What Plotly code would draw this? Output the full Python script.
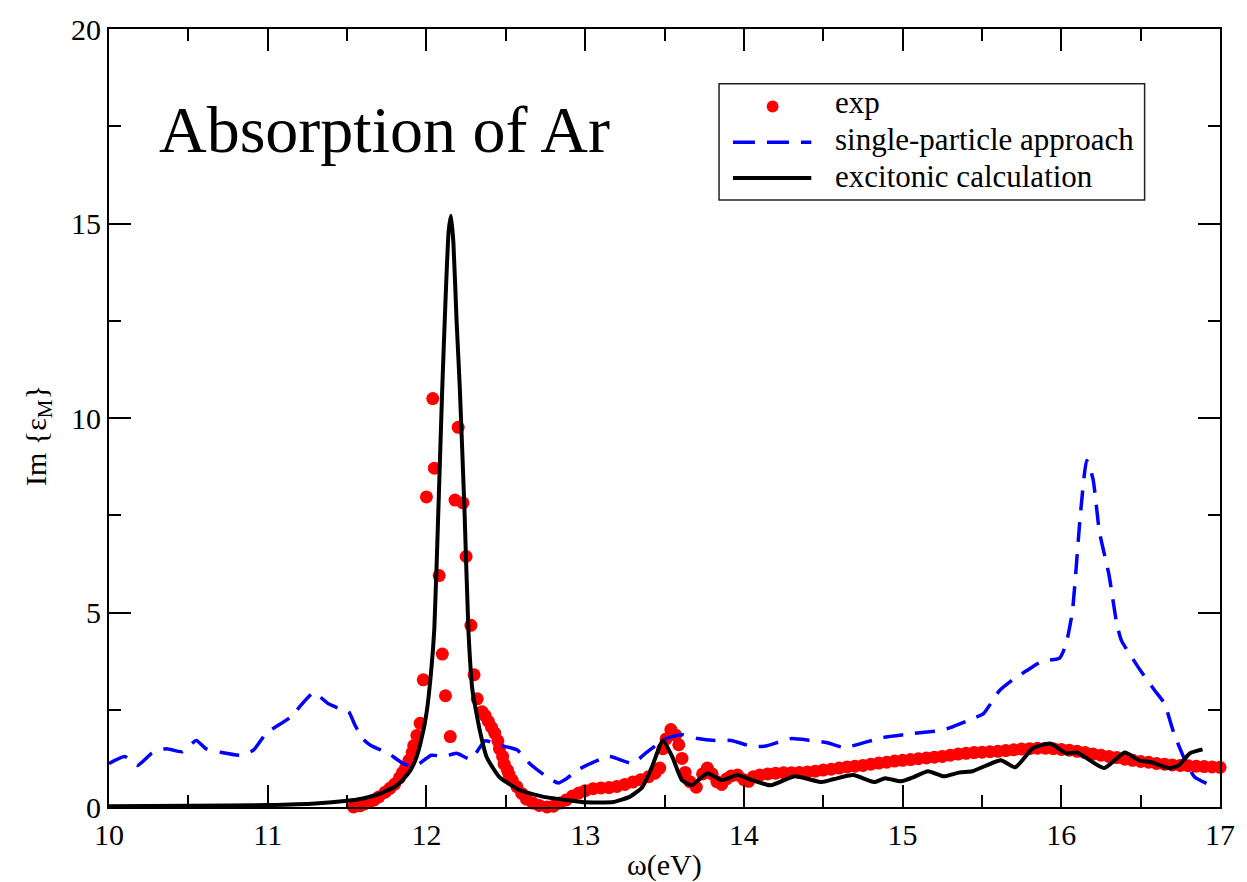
import plotly.graph_objects as go

# ---- experimental absorption (eV, Im eps_M) ----
exp_x = [11.54, 11.58, 11.61, 11.64, 11.67, 11.70, 11.74, 11.77, 11.80, 11.83,
         11.85, 11.87, 11.89, 11.91, 11.92, 11.94, 11.96, 11.98, 12.00, 12.04,
         12.05, 12.08, 12.10, 12.12, 12.15, 12.18, 12.20, 12.23, 12.25, 12.28,
         12.30, 12.32, 12.35, 12.37, 12.39, 12.41, 12.43, 12.45, 12.46, 12.48,
         12.49, 12.51, 12.52, 12.54, 12.57, 12.60, 12.63, 12.67, 12.71, 12.76,
         12.80, 12.84, 12.88, 12.92, 12.96, 13.00, 13.05, 13.10, 13.15, 13.20,
         13.25, 13.30, 13.35, 13.40, 13.44, 13.47, 13.49, 13.51, 13.54, 13.57,
         13.59, 13.61, 13.63, 13.66, 13.70, 13.74, 13.77, 13.80, 13.83, 13.86,
         13.89, 13.92, 13.96, 14.00, 14.03, 14.06, 14.10, 14.15, 14.20, 14.25,
         14.30, 14.35, 14.40, 14.45, 14.50, 14.55, 14.60, 14.65, 14.70, 14.75,
         14.80, 14.85, 14.90, 14.95, 15.00, 15.05, 15.10, 15.15, 15.20, 15.25,
         15.30, 15.35, 15.40, 15.45, 15.50, 15.55, 15.60, 15.65, 15.70, 15.75,
         15.80, 15.85, 15.90, 15.95, 16.00, 16.05, 16.10, 16.15, 16.20, 16.25,
         16.30, 16.35, 16.40, 16.45, 16.50, 16.55, 16.60, 16.65, 16.70, 16.75,
         16.80, 16.85, 16.90, 16.95, 17.00]
exp_y = [0.00, 0.03, 0.08, 0.12, 0.18, 0.26, 0.38, 0.48, 0.59, 0.75,
         0.89, 1.02, 1.20, 1.40, 1.58, 1.84, 2.15, 3.27, 7.97, 10.50,
         8.71, 5.95, 3.93, 2.86, 1.81, 7.89, 9.76, 7.82, 6.44, 4.67,
         3.40, 2.78, 2.45, 2.35, 2.20, 2.05, 1.90, 1.70, 1.50, 1.30,
         1.10, 0.95, 0.84, 0.69, 0.52, 0.35, 0.20, 0.10, 0.04, 0.00,
         0.02, 0.10, 0.18, 0.28, 0.36, 0.42, 0.47, 0.49, 0.50, 0.53,
         0.58, 0.64, 0.70, 0.78, 0.87, 1.00, 1.50, 1.75, 1.99, 1.85,
         1.60, 1.25, 0.89, 0.65, 0.51, 0.85, 1.00, 0.85, 0.65, 0.58,
         0.72, 0.80, 0.82, 0.70, 0.66, 0.78, 0.82, 0.85, 0.87, 0.88,
         0.88, 0.89, 0.90, 0.92, 0.95, 0.97, 1.00, 1.03, 1.05, 1.07,
         1.10, 1.13, 1.15, 1.18, 1.20, 1.22, 1.24, 1.26, 1.28, 1.30,
         1.33, 1.36, 1.38, 1.40, 1.41, 1.42, 1.43, 1.45, 1.47, 1.49,
         1.50, 1.51, 1.51, 1.50, 1.48, 1.46, 1.43, 1.40, 1.36, 1.33,
         1.30, 1.27, 1.23, 1.20, 1.17, 1.15, 1.12, 1.10, 1.08, 1.07,
         1.06, 1.05, 1.04, 1.03, 1.02]

# ---- single-particle (independent transition) spectrum ----
sp_x = [10.00, 10.10, 10.18, 10.27, 10.36, 10.46, 10.55, 10.61, 10.71, 10.83,
        10.91, 10.99, 11.14, 11.29, 11.38, 11.44, 11.51, 11.55, 11.60, 11.65,
        11.76, 11.86, 11.93, 12.03, 12.11, 12.19, 12.28, 12.37, 12.45, 12.57,
        12.65, 12.76, 12.83, 12.88, 12.96, 13.15, 13.30, 13.38, 13.51, 13.61,
        13.71, 13.82, 13.92, 14.05, 14.13, 14.30, 14.42, 14.52, 14.63, 14.88,
        15.07, 15.24, 15.30, 15.44, 15.51, 15.61, 15.71, 15.78, 15.88, 15.99,
        16.03, 16.07, 16.12, 16.16, 16.20, 16.24, 16.30, 16.35, 16.38, 16.46,
        16.50, 16.59, 16.65, 16.71, 16.78, 16.84, 16.94]
sp_y = [1.12, 1.30, 1.07, 1.38, 1.50, 1.42, 1.71, 1.50, 1.40, 1.33,
        1.46, 1.89, 2.30, 2.94, 2.66, 2.55, 2.45, 2.10, 1.75, 1.58,
        1.38, 1.10, 1.05, 1.33, 1.30, 1.38, 1.23, 1.70, 1.60, 1.47,
        1.12, 0.77, 0.62, 0.72, 0.97, 1.30, 1.12, 1.38, 1.76, 1.86,
        1.76, 1.71, 1.71, 1.56, 1.56, 1.76, 1.71, 1.66, 1.53, 1.79,
        1.89, 1.97, 2.04, 2.27, 2.40, 2.99, 3.32, 3.50, 3.75, 3.83,
        4.19, 5.03, 7.50, 8.91, 8.43, 7.08, 5.98, 4.70, 4.27, 3.75,
        3.50, 2.99, 2.66, 1.89, 1.20, 0.77, 0.56]

# ---- excitonic (Bethe-Salpeter) spectrum ----
exc_x = [10.00, 10.50, 11.00, 11.30, 11.50, 11.60, 11.70, 11.80, 11.85, 11.90,
         11.93, 11.96, 12.00, 12.03, 12.05, 12.075, 12.10, 12.12, 12.14, 12.155,
         12.17, 12.19, 12.21, 12.24, 12.265, 12.29, 12.34, 12.38, 12.46, 12.59,
         12.74, 12.94, 13.00, 13.18, 13.28, 13.36, 13.42, 13.49, 13.55, 13.61,
         13.67, 13.77, 13.86, 13.96, 14.05, 14.17, 14.32, 14.49, 14.57, 14.69,
         14.82, 14.89, 14.99, 15.07, 15.16, 15.26, 15.36, 15.44, 15.53, 15.62,
         15.71, 15.82, 15.93, 16.03, 16.10, 16.27, 16.40, 16.49, 16.57, 16.68,
         16.74, 16.81, 16.89]
exc_y = [0.02, 0.03, 0.05, 0.09, 0.16, 0.22, 0.33, 0.52, 0.70, 0.95,
         1.20, 1.60, 2.40, 3.50, 4.60, 7.60, 10.80, 13.00, 14.80, 15.20,
         14.50, 12.50, 10.80, 7.60, 4.50, 3.00, 1.90, 1.28, 0.77, 0.43,
         0.26, 0.15, 0.12, 0.13, 0.26, 0.51, 1.02, 1.71, 1.28, 0.69,
         0.56, 0.87, 0.69, 0.82, 0.69, 0.56, 0.79, 0.64, 0.72, 0.82,
         0.64, 0.74, 0.66, 0.77, 0.92, 0.79, 0.89, 0.92, 1.07, 1.20,
         1.02, 1.51, 1.63, 1.38, 1.40, 1.00, 1.40, 1.20, 1.15, 1.00,
         1.07, 1.38, 1.48]

x_ticks = [10, 11, 12, 13, 14, 15, 16, 17]
y_ticks = [0, 5, 10, 15, 20]

legend_labels = ["exp", "single-particle approach", "excitonic calculation"]
title_text = "Absorption of Ar"

FONT = "Liberation Serif, Times New Roman, serif"
W, H = 1247, 882
ML, MR, MT, MB = 109, 18, 24, 75
PW, PH = W - ML - MR, H - MT - MB


def px(x):
    return (x - ML) / PW


def py(y):
    return (H - MB - y) / PH


fig = go.Figure()

fig.add_trace(go.Scatter(
    x=exp_x, y=exp_y, mode="markers", name=legend_labels[0],
    marker=dict(color="#ff0000", size=13, line=dict(width=0)),
    cliponaxis=False, showlegend=False))

fig.add_trace(go.Scatter(
    x=sp_x, y=sp_y, mode="lines", name=legend_labels[1],
    line=dict(color="#0000ff", width=3.5, dash="20px,12px", shape="spline", smoothing=0.5),
    showlegend=False))

fig.add_trace(go.Scatter(
    x=exc_x, y=exc_y, mode="lines", name=legend_labels[2],
    line=dict(color="#000000", width=4, shape="spline", smoothing=0.5),
    showlegend=False))

axis_common = dict(
    showgrid=False, zeroline=False, showline=True, linecolor="black", linewidth=2,
    mirror="ticks", ticks="inside", ticklen=22, tickwidth=2, tickcolor="black",
    tickfont=dict(family=FONT, size=30, color="black"),
)

fig.update_xaxes(range=[10, 17], tickvals=x_ticks, ticktext=[str(v) for v in x_ticks],
                 minor=dict(dtick=0.5, ticklen=12, tickwidth=2, tickcolor="black", ticks="inside"),
                 **axis_common)
fig.update_yaxes(range=[0, 20], tickvals=y_ticks, ticktext=[str(v) for v in y_ticks],
                 minor=dict(dtick=2.5, ticklen=12, tickwidth=2, tickcolor="black", ticks="inside"),
                 **axis_common)

# legend box with hand-placed samples
shapes = [
    dict(type="rect", xref="paper", yref="paper", x0=px(724), x1=px(1153), y0=py(196), y1=py(79),
         line=dict(color="#222222", width=1.5), fillcolor="white", layer="above"),
    dict(type="circle", xref="paper", yref="paper", x0=px(772), x1=px(784), y0=py(108), y1=py(96),
         line=dict(width=0), fillcolor="#ff0000", layer="above"),
    dict(type="line", xref="paper", yref="paper", x0=px(738), x1=px(817), y0=py(138), y1=py(138),
         line=dict(color="#0000ff", width=3.5, dash="22px,12px"), layer="above"),
    dict(type="line", xref="paper", yref="paper", x0=px(738), x1=px(817), y0=py(174), y1=py(174),
         line=dict(color="#000000", width=4), layer="above"),
]

annotations = [
    dict(text=title_text, xref="paper", yref="paper", x=px(157), y=py(125),
         xanchor="left", yanchor="middle", showarrow=False,
         font=dict(family=FONT, size=66, color="black")),
    dict(text="ω(eV)", xref="paper", yref="paper", x=0.5, y=py(865),
         xanchor="center", yanchor="middle", showarrow=False,
         font=dict(family=FONT, size=30, color="black")),
    dict(text="Im {ε<sub>M</sub>}", xref="paper", yref="paper", x=px(38), y=py(433),
         xanchor="center", yanchor="middle", textangle=-90, showarrow=False,
         font=dict(family=FONT, size=30, color="black")),
]
for label, yc in zip(legend_labels, [98, 135, 172]):
    annotations.append(dict(text=label, xref="paper", yref="paper", x=px(839), y=py(yc),
                            xanchor="left", yanchor="middle", showarrow=False,
                            font=dict(family=FONT, size=31, color="black")))

fig.update_layout(
    width=W, height=H,
    margin=dict(l=ML, r=MR, t=MT, b=MB, pad=0),
    plot_bgcolor="white", paper_bgcolor="white",
    showlegend=False,
    shapes=shapes, annotations=annotations,
    font=dict(family=FONT, size=30, color="black"),
)

fig.write_html("out.html")
